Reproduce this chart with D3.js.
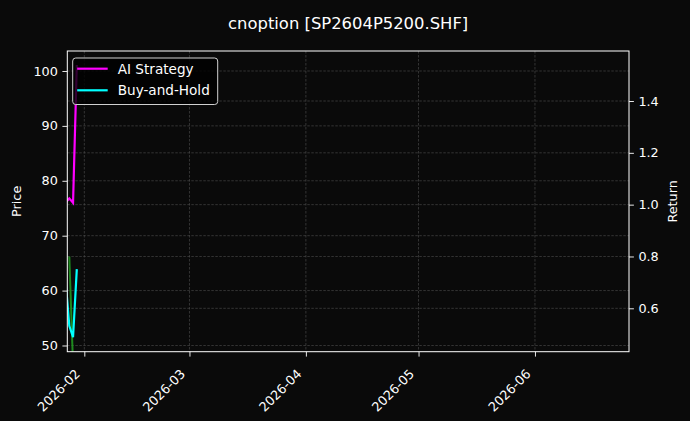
<!DOCTYPE html>
<html>
<head>
<meta charset="utf-8">
<script src="https://cdn.jsdelivr.net/npm/d3@7"></script>
<style>
  body { margin: 0; background: #0a0a0a; }
  svg { display: block; font-family: "DejaVu Sans", sans-serif; }
</style>
</head>
<body>
<div id="chart"></div>
<script>
// data
const dates = ["2026-01-27", "2026-01-28", "2026-01-29", "2026-01-30"];
const aiStrategy = [76.0, 76.8, 76.0, 101.1];
const buyAndHold = [62.0, 53.6, 51.5, 63.9];
const signalDates = ["2026-01-28", "2026-01-29"];
const signalValues = [0.80, 0.38];
const priceTicks = [50, 60, 70, 80, 90, 100];
const returnTicks = [0.6, 0.8, 1.0, 1.2, 1.4];
const monthTicks = ["2026-02", "2026-03", "2026-04", "2026-05", "2026-06"];

const width = 690;
const height = 421;
const margin = {top: 51, right: 61, bottom: 69.3, left: 67.3};
const innerWidth = width - margin.left - margin.right;
const innerHeight = height - margin.top - margin.bottom;

const parse = d3.utcParse("%Y-%m-%d");
const parseMonth = d3.utcParse("%Y-%m");

const svg = d3.select("#chart")
  .append("svg")
    .attr("width", width)
    .attr("height", height)
    .style("background", "#0a0a0a");

const g = svg.append("g")
  .attr("transform", `translate(${margin.left}, ${margin.top})`);

// scales
const x = d3.scaleUtc()
  .domain([Date.UTC(2026, 0, 27, 11, 15), Date.UTC(2026, 5, 26, 1)])
  .range([0, innerWidth]);

const y = d3.scaleLinear()
  .domain([48.87, 103.64])
  .range([innerHeight, 0]);

const y2 = d3.scaleLinear()
  .domain([0.4325, 1.593])
  .range([innerHeight, 0]);

// grid
const gridColor = "#505050";
const gridDash = "2.5,1.5";

g.append("g")
  .selectAll("line")
  .data(monthTicks)
  .enter().append("line")
    .attr("x1", d => x(parseMonth(d)))
    .attr("x2", d => x(parseMonth(d)))
    .attr("y1", 0)
    .attr("y2", innerHeight)
    .attr("stroke", gridColor)
    .attr("stroke-width", 0.6)
    .attr("stroke-dasharray", gridDash);

g.append("g")
  .selectAll("line")
  .data(priceTicks)
  .enter().append("line")
    .attr("x1", 0)
    .attr("x2", innerWidth)
    .attr("y1", d => y(d))
    .attr("y2", d => y(d))
    .attr("stroke", gridColor)
    .attr("stroke-width", 0.6)
    .attr("stroke-dasharray", gridDash);

g.append("g")
  .selectAll("line")
  .data(returnTicks)
  .enter().append("line")
    .attr("x1", 0)
    .attr("x2", innerWidth)
    .attr("y1", d => y2(d))
    .attr("y2", d => y2(d))
    .attr("stroke", gridColor)
    .attr("stroke-width", 0.6)
    .attr("stroke-dasharray", gridDash);

// clip
g.append("clipPath").attr("id", "plot-clip")
  .append("rect")
    .attr("width", innerWidth)
    .attr("height", innerHeight);

const plot = g.append("g").attr("clip-path", "url(#plot-clip)");

// green signal line (right axis)
const signalLine = d3.line()
  .x((d, i) => x(parse(signalDates[i])))
  .y(d => y2(d));

plot.append("path")
  .datum(signalValues)
  .attr("d", signalLine)
  .attr("fill", "none")
  .attr("stroke", "#22a022")
  .attr("stroke-opacity", 0.85)
  .attr("stroke-width", 2);

const priceLine = d3.line()
  .x((d, i) => x(parse(dates[i])))
  .y(d => y(d));

plot.append("path")
  .datum(aiStrategy)
  .attr("d", priceLine)
  .attr("fill", "none")
  .attr("stroke", "#ff00ff")
  .attr("stroke-width", 2.2);

plot.append("path")
  .datum(buyAndHold)
  .attr("d", priceLine)
  .attr("fill", "none")
  .attr("stroke", "#00ffff")
  .attr("stroke-width", 2.2);

// axes
const styleAxis = sel => {
  sel.attr("font-family", "DejaVu Sans, sans-serif");
  sel.select(".domain").remove();
  sel.selectAll(".tick line").attr("stroke", "#fff").attr("stroke-width", 0.9);
  sel.selectAll(".tick text").attr("fill", "#fff").style("font-size", "12.8px");
};

g.append("g")
  .call(d3.axisLeft(y).tickValues(priceTicks).tickSize(4.9).tickPadding(4.5))
  .call(styleAxis);

g.append("g")
  .attr("transform", `translate(${innerWidth}, 0)`)
  .call(d3.axisRight(y2).tickValues(returnTicks).tickSize(4.9).tickPadding(4.5).tickFormat(d3.format(".1f")))
  .call(styleAxis);

const xAxis = g.append("g")
  .attr("transform", `translate(0, ${innerHeight})`)
  .call(d3.axisBottom(x).tickValues(monthTicks.map(parseMonth)).tickSize(4.9).tickFormat(d3.utcFormat("%Y-%m")))
  .call(styleAxis);

xAxis.selectAll(".tick text")
  .attr("text-anchor", "end")
  .attr("dy", 0)
  .attr("y", 0)
  .attr("transform", "translate(-4, 23) rotate(-45)");

// frame
g.append("rect")
  .attr("width", innerWidth)
  .attr("height", innerHeight)
  .attr("fill", "none")
  .attr("stroke", "#fff")
  .attr("stroke-width", 1);

// labels
svg.append("text")
  .attr("x", margin.left + innerWidth / 2)
  .attr("y", 29)
  .attr("text-anchor", "middle")
  .attr("fill", "#fff")
  .style("font-size", "16.4px")
  .text("cnoption [SP2604P5200.SHF]");

svg.append("text")
  .attr("transform", `translate(21, ${margin.top + innerHeight / 2}) rotate(-90)`)
  .attr("text-anchor", "middle")
  .attr("fill", "#fff")
  .style("font-size", "12.8px")
  .text("Price");

svg.append("text")
  .attr("transform", `translate(677, ${margin.top + innerHeight / 2}) rotate(-90)`)
  .attr("text-anchor", "middle")
  .attr("fill", "#fff")
  .style("font-size", "12.8px")
  .text("Return");

// legend
const legendItems = [
  {name: "AI Strategy", color: "#ff00ff"},
  {name: "Buy-and-Hold", color: "#00ffff"}
];

const legend = svg.append("g").attr("transform", "translate(72.7, 58)");
legend.append("rect")
  .attr("width", 145)
  .attr("height", 46.5)
  .attr("rx", 3)
  .attr("fill", "#000")
  .attr("fill-opacity", 0.8)
  .attr("stroke", "#d0d0d0")
  .attr("stroke-width", 1);

const item = legend.selectAll("g.item")
  .data(legendItems)
  .enter().append("g")
    .attr("transform", (d, i) => `translate(0, ${10.7 + i * 21.6})`);

item.append("line")
  .attr("x1", 4.5)
  .attr("x2", 35)
  .attr("stroke", d => d.color)
  .attr("stroke-width", 2.2);

item.append("text")
  .attr("x", 45)
  .attr("y", 5)
  .attr("fill", "#fff")
  .style("font-size", "13.6px")
  .text(d => d.name);
</script>
</body>
</html>
